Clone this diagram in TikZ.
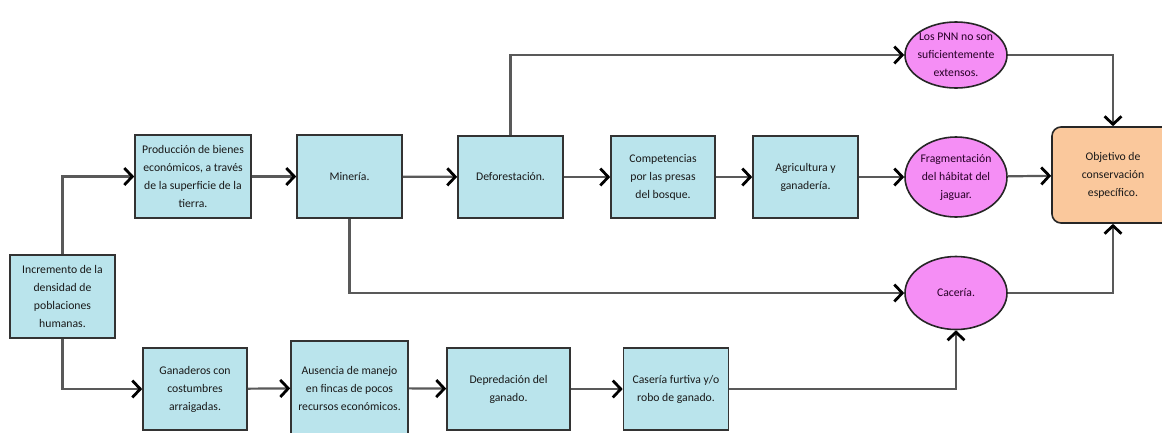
\documentclass[tikz,border=0pt]{standalone}
\usepackage{fontspec}
\setmainfont{Carlito}
\usetikzlibrary{arrows.meta,shapes.geometric}
\definecolor{boxblue}{RGB}{186,228,236}
\definecolor{jagpink}{RGB}{245,142,245}
\definecolor{goalorange}{RGB}{250,200,156}

\begin{document}
\begin{tikzpicture}[
  x=1pt, y=-1pt,
  block/.style={rectangle, draw=black!80, line width=1.6pt, fill=boxblue, minimum width=105pt, minimum height=82pt, inner sep=0pt, align=center, text=black!90},
  cause/.style={ellipse, draw=black!85, line width=1.6pt, fill=jagpink, minimum width=102pt, inner xsep=-14pt, inner ysep=-8pt, align=center, text=violet!30!black},
  goal/.style={rectangle, rounded corners=9pt, draw=black!85, line width=1.6pt, fill=goalorange, minimum width=122pt, minimum height=96pt, inner sep=0pt, align=center, text=black!90},
  flow/.style={-{Straight Barb[length=8pt,width=17pt,line width=2.8pt,color=black]}, line width=2.2pt, draw=black!65},
  font=\fontsize{11.7}{18}\selectfont
]
\useasboundingbox (0,0) rectangle (1162,432);

% top row
\node[block, minimum height=83pt] (inc) at (62.5,296.5) {Incremento de la\\densidad de\\poblaciones\\humanas.};
\node[block, minimum width=116pt, minimum height=83pt] (prod) at (193,176.5) {Producción de bienes\\económicos, a través\\de la superficie de la\\tierra.};
\node[block, minimum height=83pt] (min) at (349.5,176.5) {Minería.};
\node[block] (def) at (510.5,177) {Deforestación.};
\node[block, minimum width=104pt] (comp) at (663,177) {Competencias\\por las presas\\del bosque.};
\node[block] (agr) at (805.5,177) {Agricultura y\\ganadería.};

% causes and goal
\node[cause, minimum height=66pt] (pnn) at (956,55) {Los PNN no son\\suficientemente\\extensos.};
\node[cause, minimum height=80pt] (frag) at (956,177) {Fragmentación\\del hábitat del\\jaguar.};
\node[cause, minimum height=73pt] (cac) at (956,293) {Cacería.};
\node[goal] (obj) at (1113,175) {Objetivo de\\conservación\\específico.};

% bottom row
\node[block, minimum width=104pt] (gan) at (195,389) {Ganaderos con\\costumbres\\arraigadas.};
\node[block, minimum width=117pt, minimum height=94pt] (aus) at (349.5,388) {Ausencia de manejo\\en fincas de pocos\\recursos económicos.};
\node[block, minimum width=123pt] (dep) at (508.5,389) {Depredación del\\ganado.};
\node[block] (cas) at (676,389) {Casería furtiva y/o\\robo de ganado.};

\draw[flow] (inc.north) |- (prod.west);
\draw[flow] (inc.south) |- (gan.west);
\draw[flow] (prod) -- (min);
\draw[flow] (min) -- (def);
\draw[flow] (def) -- (comp);
\draw[flow] (comp) -- (agr);
\draw[flow] (agr) -- (frag);
\draw[flow] (frag) -- (obj);
\draw[flow] (def.north) |- (pnn.west);
\draw[flow] (min.south) |- (cac.west);
\draw[flow] (pnn.east) -| (obj.north);
\draw[flow] (cac.east) -| (obj.south);
\draw[flow] (gan) -- (aus);
\draw[flow] (aus) -- (dep);
\draw[flow] (dep) -- (cas);
\draw[flow] (cas.east) -| (cac.south);
\end{tikzpicture}
\end{document}
